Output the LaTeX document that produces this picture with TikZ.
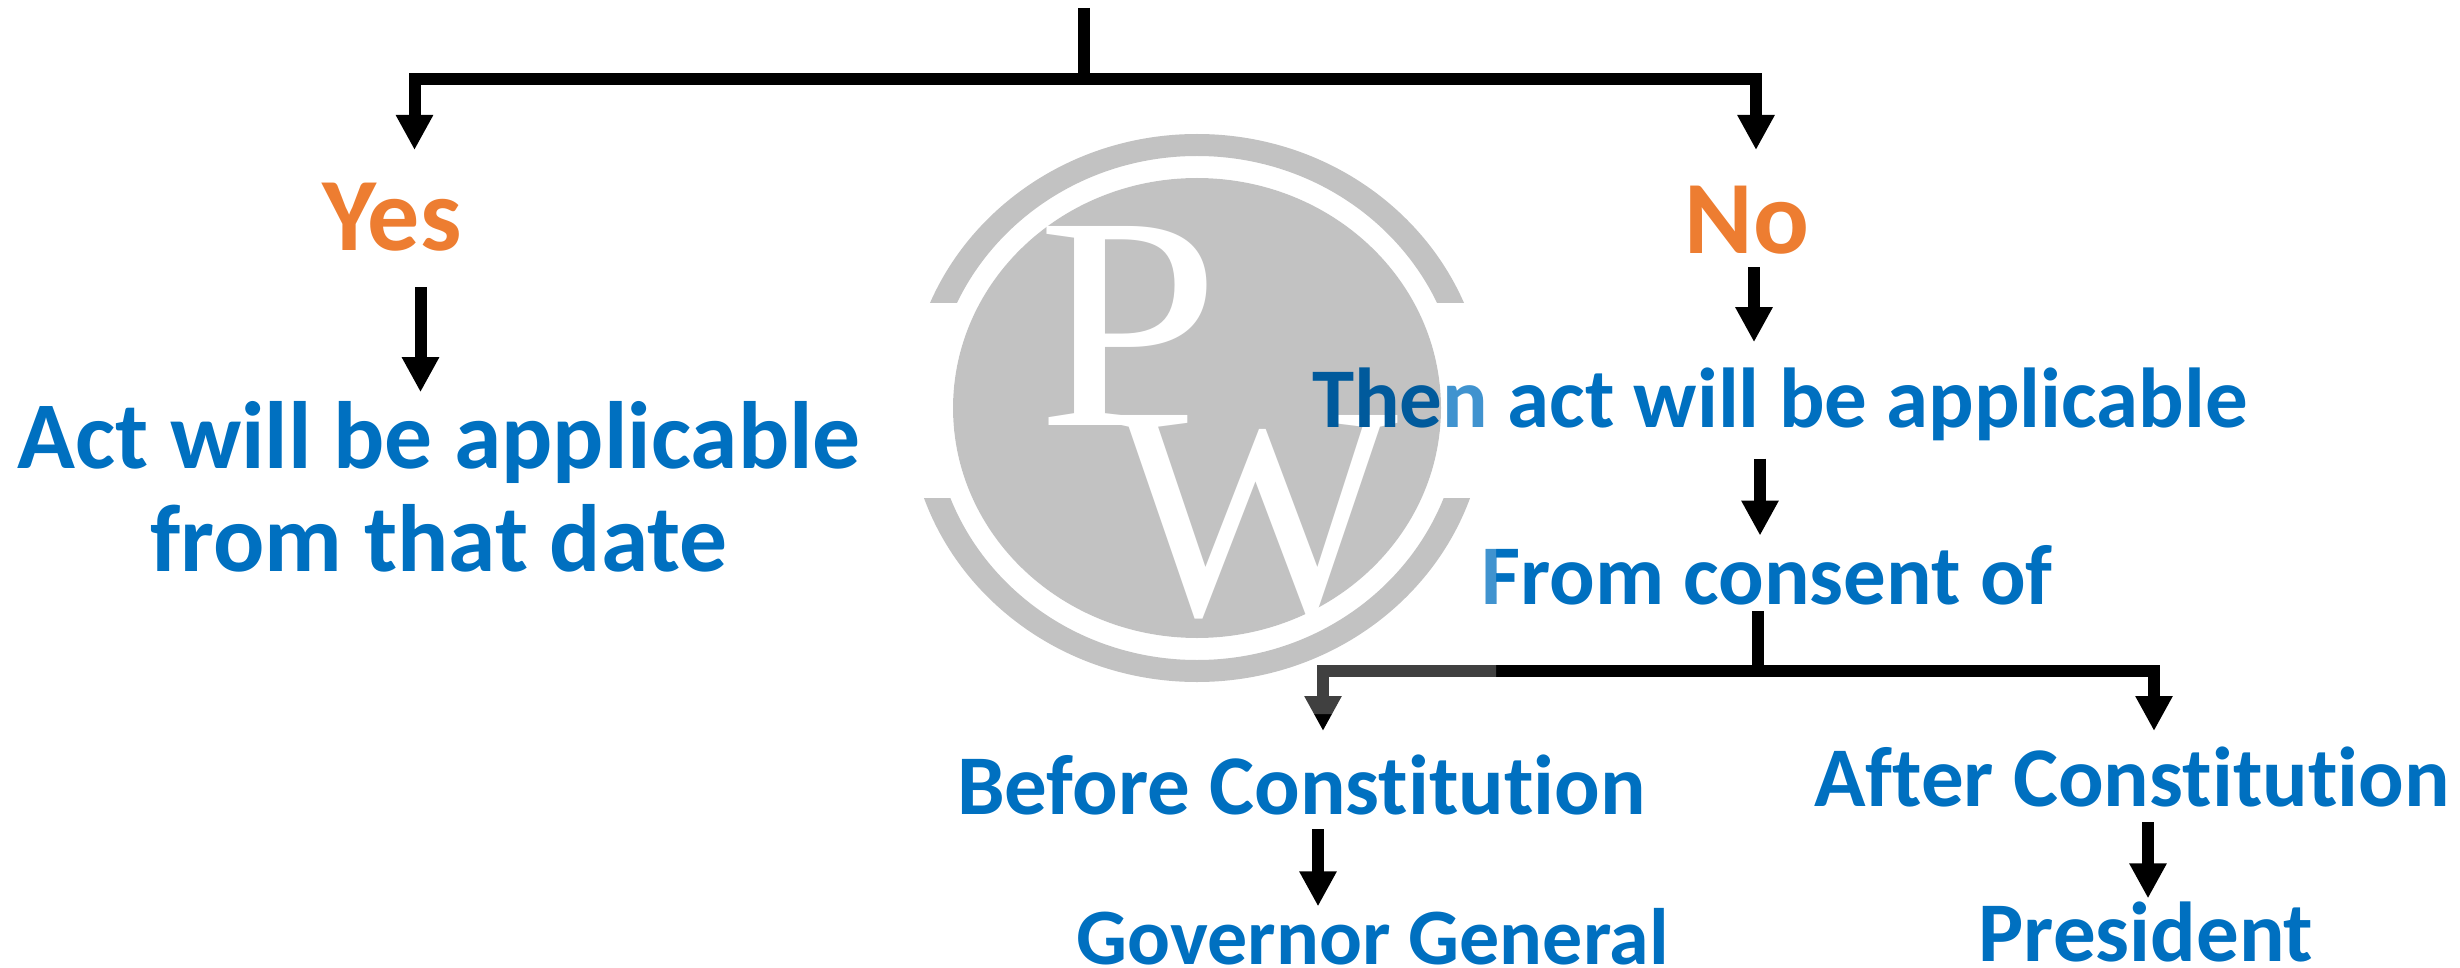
\documentclass[tikz,border=0pt]{standalone}
\usepackage{fontspec}
\setmainfont[Ligatures=NoCommon]{Carlito}
\newfontfamily\logofont{Liberation Serif}
\usetikzlibrary{arrows.meta,positioning}
\definecolor{pwblue}{HTML}{0070C0}
\definecolor{pwdark}{HTML}{005A9C}
\definecolor{pworange}{HTML}{ED7D31}
\definecolor{pwgrey}{HTML}{C2C2C2}
\definecolor{pwring}{HTML}{AEAEAE}
\tikzset{
    %Define standard arrow tip
    >={Triangle[length=35pt,width=35pt]},
    %Define style for labels
    lbl/.style={
           inner sep=0pt,
           text=pwblue,
           font=\bfseries\fontsize{#1}{#1}\selectfont},
    %Yes and No
    answer/.style={
           lbl=104,
           text=pworange},
    % Define arrow style
    pil/.style={
           ->,
           line width=12pt},
    stub/.style={
           line width=12pt},
    %Letters of the watermark
    logoletter/.style={
           inner sep=0pt,
           text=white,
           font=\logofont\fontsize{304}{304}\selectfont}
}

\begin{document}
\begin{tikzpicture}[x=1pt,y=-1pt]
\useasboundingbox (0,0) rectangle (2460,968);

% watermark
\fill[pwgrey] (1197,408) ellipse [x radius=244pt, y radius=230pt];
\begin{scope}
\clip (900,120) rectangle (1500,302.8) (900,498) rectangle (1500,700);
\fill[pwring, even odd rule] (1197,408) ellipse [x radius=289pt, y radius=274pt]
    (1197,408) ellipse [x radius=264pt, y radius=252pt];
\end{scope}
\node[logoletter, anchor=base, xscale=1.08] (logop) at (1129,425.3) {P};
\node[logoletter, anchor=base] (logow) at (1255,614) {W};

\node[answer, anchor=base, text height=101pt, text depth=36pt] (yes) at (392,251) {Yes};
\node[answer, anchor=base, text height=105pt, text depth=13pt] (no) at (1747,254) {No};

\node[lbl=95.6, below=105pt of yes, xshift=47pt, align=center, inner ysep=9pt] (act)
    {\fontsize{95.6}{104}\selectfont Act will be applicable\\[7pt]from that date};

\node[lbl=85, below=75pt of no, xshift=33pt, text height=85pt, text depth=31pt] (then)
    {\textcolor{pwdark}{The}n act will be applicable};
\node[lbl=85, below=77pt of then, xshift=-13pt, text height=69pt, text depth=6pt] (from)
    {From consent of};

\node[lbl=85, below=121pt of from, xshift=-465.5pt, text height=82pt, text depth=15pt] (before)
    {Before Constitution};
\node[lbl=85, below=121pt of from, xshift=365pt, text height=74pt, text depth=16pt] (after)
    {After Constitution};
\node[lbl=80, below=77pt of before, xshift=71.5pt, text height=58pt, text depth=4pt] (governor)
    {Governor General};
\node[lbl=85, below=76pt of after, xshift=14pt, text height=63pt, text depth=4pt] (president)
    {President};

% where the lines run
\coordinate (start) at (1083.6,8);
\coordinate (split) at (1083.6,79.5);
\coordinate (yes-in) at (414.5,150);
\coordinate (no-in) at (1756,150);
\coordinate (yes-x) at (420.5,0);
\coordinate (no-x) at (1754,0);
\coordinate (then-x) at (1760,0);
\coordinate (from-split) at (1758,671);
\coordinate (before-in) at (1323,731);
\coordinate (after-in) at (2154,731);
\coordinate (before-x) at (1318,0);
\coordinate (after-x) at (2148,0);

\draw[stub] (start) -- (split);
\draw[pil] (split) -| (yes-in);
\draw[pil] (split) -| (no-in);

\draw[pil] (yes-x |- yes.south) -- (yes-x |- act.north);
\draw[pil] (no-x |- no.south) -- (no-x |- then.north);
\draw[pil] (then-x |- then.south) -- (then-x |- from.north);

\draw[stub] (from-split |- from.south) -- (from-split);
\draw[pil] (from-split) -| (before-in);
\draw[pil] (from-split) -| (after-in);

\draw[pil] (before-x |- before.south) -- (before-x |- governor.north);
\draw[pil] (after-x |- after.south) -- (after-x |- president.north);

% pale veil round the watermark
\fill[white, fill opacity=.25, even odd rule] (895,120) rectangle (1496,714)
    (1197,408) ellipse [x radius=244pt, y radius=230pt];

\end{tikzpicture}
\end{document}
